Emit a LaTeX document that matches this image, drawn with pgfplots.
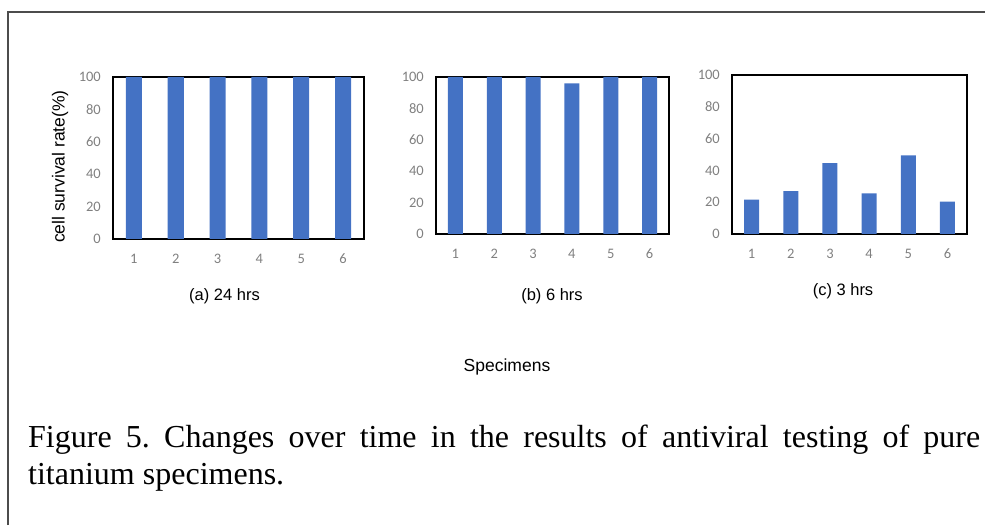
\documentclass[border=0pt]{standalone}
\usepackage{pgfplots}
\pgfplotsset{compat=1.18}
\usepackage{fontspec}
\setmainfont{Liberation Serif}
\newfontfamily\arial{Liberation Sans}
\newfontfamily\calibri{Carlito}
\definecolor{barblue}{HTML}{4472C4}
\definecolor{tickgray}{HTML}{808080}
\frenchspacing
\pgfplotsset{
  panel/.style={
    scale only axis,
    anchor=south west,
    xmin=0.5, xmax=6.5, ymin=0, ymax=100,
    xtick={1,2,3,4,5,6},
    ytick={0,20,40,60,80,100},
    major tick length=0pt,
    /pgf/number format/assume math mode=true,
    tick label style={font=\calibri\fontsize{14.5}{16}\selectfont, text=tickgray, inner sep=0pt},
    yticklabel style={anchor=east, xshift=-12pt},
    xticklabel style={anchor=north, yshift=-15pt},
    axis line style={black, line width=1.6pt},
    clip=false,
  }
}
\begin{document}
\begin{tikzpicture}
\useasboundingbox (0,0) rectangle (985pt,525pt);
\draw[line width=1.2pt, black!70] (8pt,0pt) -- (8pt,513pt) -- (985pt,513pt);

% (a) 24 hrs
\begin{axis}[panel, at={(113pt,286pt)}, width=251pt, height=162pt,
  axis line style={black, line width=1.9pt},
  ylabel={cell survival rate(\%)},
  ylabel style={font=\arial\fontsize{17.5}{19}\selectfont, at={(axis description cs:-0.211,0.447)}, anchor=center, rotate=0}]
\addplot[ybar, bar width=16pt, fill=barblue, draw=none] coordinates {(1,100) (2,100) (3,100) (4,100) (5,100) (6,100)};
\end{axis}

% (b) 6 hrs
\begin{axis}[panel, at={(436pt,291pt)}, width=233pt, height=157pt]
\addplot[ybar, bar width=15pt, fill=barblue, draw=none] coordinates {(1,100) (2,100) (3,100) (4,96) (5,100) (6,100)};
\end{axis}

% (c) 3 hrs
\begin{axis}[panel, at={(732pt,291pt)}, width=235pt, height=159pt]
\addplot[ybar, bar width=15pt, fill=barblue, draw=none] coordinates {(1,21.6) (2,27) (3,44.5) (4,25.6) (5,49.5) (6,20.3)};
\end{axis}

\node[font=\arial\fontsize{16.5}{19}\selectfont] at (224.5pt,229pt) {(a) 24 hrs};
\node[font=\arial\fontsize{16.5}{19}\selectfont] at (552pt,229pt) {(b) 6 hrs};
\node[font=\arial\fontsize{16.5}{19}\selectfont] at (843pt,234pt) {(c) 3 hrs};
\node[font=\arial\fontsize{17.5}{19}\selectfont] at (507pt,158pt) {Specimens};

\node[anchor=base west, inner sep=0pt, font=\fontsize{32}{37}\selectfont] at (28pt,78pt)
  {\hbox to 952pt{Figure 5. Changes over time in the results of antiviral testing of pure}};
\node[anchor=base west, inner sep=0pt, font=\fontsize{32}{37}\selectfont] at (28pt,41pt)
  {titanium specimens.};
\end{tikzpicture}
\end{document}
